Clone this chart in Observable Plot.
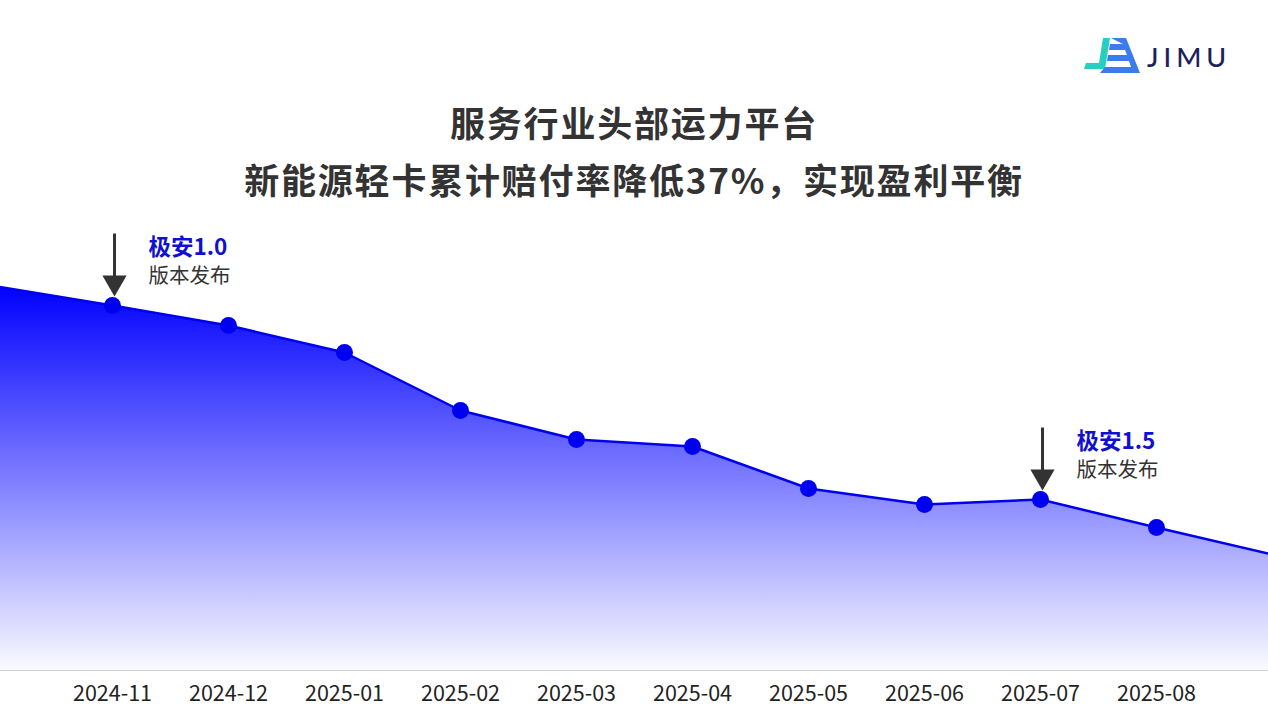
<!DOCTYPE html>
<html>
<head>
<meta charset="utf-8">
<script src="https://cdn.jsdelivr.net/npm/d3@7"></script>
<script src="https://cdn.jsdelivr.net/npm/@observablehq/plot@0.6"></script>
<style>
  html, body { margin: 0; padding: 0; background: #fff; }
  #wrap { position: relative; width: 1268px; height: 714px; overflow: hidden; font-family: "Noto Sans CJK SC", "Noto Sans", sans-serif; }
  #header { position: relative; width: 1268px; height: 215px; }
  .t { position: absolute; left: 0; width: 1268px; text-align: center; font-weight: 700; font-size: 35px; letter-spacing: 1.8px; color: #333; line-height: 40px; }
  #t1 { top: 102px; }
  #t2 { top: 159px; }
  #logo { position: absolute; left: 1080px; top: 34px; }
  #chart svg { display: block; }
</style>
</head>
<body>
<div id="wrap">
  <div id="header">
    <svg id="logo" width="160" height="44" viewBox="1080 34 160 44">
      <polygon points="1103,38 1110,38 1105,69 1084,69 1086,63 1099,63" fill="#25d0c0"/>
      <polygon points="1111,38 1126,38 1140,73 1100,73 1105,67 1131,67 1129,61 1107,61 1108,55 1127,55 1125,50 1109,50 1110,44 1123,44" fill="#3a7cf0"/>
      <text x="1147" y="67" font-family="Lato, 'Open Sans', sans-serif" font-size="27" font-weight="500" letter-spacing="5" fill="#1c1f5a">JIMU</text>
    </svg>
    <div class="t" id="t1">服务行业头部运力平台</div>
    <div class="t" id="t2">新能源轻卡累计赔付率降低37%，实现盈利平衡</div>
  </div>
  <div id="chart"></div>
</div>
<script>
// Months (first and last lie just outside the visible frame; the line runs off both edges)
const months = ["2024-10","2024-11","2024-12","2025-01","2025-02","2025-03","2025-04","2025-05","2025-06","2025-07","2025-08","2025-09"];
// Relative cumulative payout-rate index
const values = [384, 365, 345, 318, 260, 231, 224, 182, 166, 171, 143, 116];
// Visible tick labels
const tickLabels = ["2024-11","2024-12","2025-01","2025-02","2025-03","2025-04","2025-05","2025-06","2025-07","2025-08"];
// Version release annotations
const releaseMonths = ["2024-11", "2025-07"];
const releaseNames = ["极安1.0", "极安1.5"];
const releaseSub = ["版本发布", "版本发布"];

const data = months.map((m, i) => ({month: m, value: values[i]}));
const visible = data.filter(d => tickLabels.includes(d.month));
const releases = releaseMonths.map((m, i) => {
  const v = values[months.indexOf(m)];
  return {month: m, value: v, top: v + 72, bottom: v + 18, head: v + 25, name: releaseNames[i], sub: releaseSub[i]};
});

const W = 1268, H = 499, MB = 44;
const blue = "#0000f0";

const chart = Plot.plot({
  width: W,
  height: H,
  marginLeft: 0,
  marginRight: 0,
  marginTop: 0,
  marginBottom: MB,
  style: {fontFamily: "'Noto Sans CJK SC', 'Noto Sans', sans-serif", background: "transparent"},
  x: {type: "point", domain: months, range: [-5, 1272], padding: 0, axis: null},
  y: {domain: [0, H - MB], axis: null},
  marks: [
    Plot.areaY(data, {x: "month", y: "value", fill: "url(#areaGrad)", clip: "frame", curve: "linear"}),
    Plot.ruleY([0], {stroke: "#cfcfcf", strokeWidth: 1.2}),
    Plot.lineY(data, {x: "month", y: "value", stroke: blue, strokeWidth: 2.5, clip: "frame"}),
    Plot.dot(visible, {x: "month", y: "value", r: 8.5, fill: blue, stroke: "none"}),
    Plot.text(tickLabels, {x: d => d, y: 0, dy: 24, text: d => d, fontSize: 21.5, fill: "#222"}),
    Plot.link(releases, {x1: "month", x2: "month", y1: "top", y2: "head", stroke: "#333", strokeWidth: 3, dx: 2}),
    Plot.dot(releases, {x: "month", y: "bottom", symbol: "triangle", rotate: 180, r: 9, fill: "#333", dx: 2, dy: -5}),
    Plot.text(releases, {x: "month", y: "value", text: "name", dx: 36, dy: -58, textAnchor: "start", fontSize: 22.5, fontWeight: 700, fill: "#1010d0"}),
    Plot.text(releases, {x: "month", y: "value", text: "sub", dx: 36, dy: -29, textAnchor: "start", fontSize: 20.5, fill: "#333"})
  ]
});

// gradient definition for the area fill
const ys = chart.scale("y");
const yTop = ys.apply(384), yBot = ys.apply(0);
const ns = "http://www.w3.org/2000/svg";
const defs = document.createElementNS(ns, "defs");
defs.innerHTML = `<linearGradient id="areaGrad" gradientUnits="userSpaceOnUse" x1="0" y1="${yTop}" x2="0" y2="${yBot}">
  <stop offset="0" stop-color="#0000ff" stop-opacity="1"/>
  <stop offset="1" stop-color="#0000ff" stop-opacity="0.02"/>
</linearGradient>`;
chart.insertBefore(defs, chart.firstChild);

document.getElementById("chart").appendChild(chart);
</script>
</body>
</html>
